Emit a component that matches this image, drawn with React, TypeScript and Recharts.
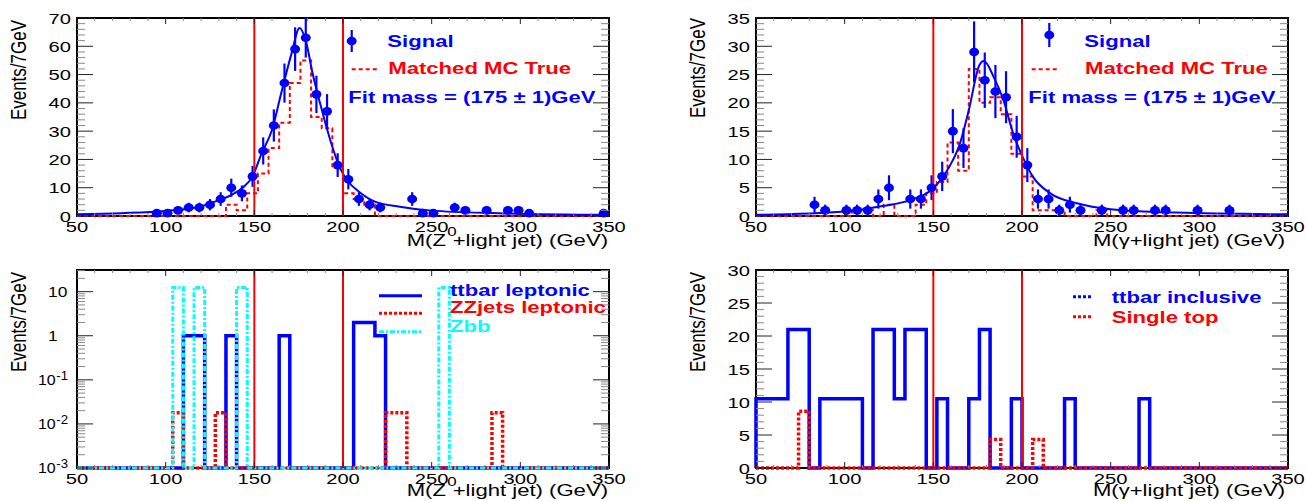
import React from 'react';
import { ComposedChart, Line, Scatter, ErrorBar, XAxis, YAxis, ReferenceLine, ReferenceArea } from 'recharts';

const BLUE = '#0000ff';
const RED = '#ff0000';
const CYAN = '#00ffff';
const FONT = '"Liberation Sans", Arial, Helvetica, sans-serif';
const SX = 1.3; // the original figure is stretched horizontally

// 50 bins of 6 GeV between 50 and 350
const X_MIN = 50;
const X_MAX = 350;
const BIN_W = 6;
const PLOT_W = 532;
const PLOT_H = 198;
const cuts = [150, 200];

const xMajor = [50, 100, 150, 200, 250, 300, 350];

// ---- top left: M(Z0 + light jet)
const sigZX = [95, 101, 107, 113, 119, 125, 131, 137, 143, 149, 155, 161, 167, 173, 179, 185, 191, 197, 203, 209, 215, 221, 239, 245, 251, 263, 269, 281, 293, 299, 305, 347];
const sigZY = [1, 1, 2, 3, 3, 4, 6, 10, 8, 14, 23, 32, 47, 59, 63, 43, 37, 18, 13, 6, 4, 3, 6, 1, 1, 3, 2, 2, 2, 2, 1, 1];
const sigZErr = [1, 1, 1.4, 1.7, 1.7, 2, 2.4, 3.2, 2.8, 3.7, 4.8, 5.7, 6.9, 7.7, 7, 6.6, 6.1, 4.2, 3.6, 2.4, 2, 1.7, 2.4, 1, 1, 1.7, 1.4, 1.4, 1.4, 1.4, 1, 1];
const mcZLo = [134, 140, 146, 152, 158, 164, 170, 176, 182, 188, 194, 200, 206, 212];
const mcZVal = [4, 2, 8, 15, 24, 33, 47, 55, 35, 31, 17, 8, 6, 4];
const fitZX = [50, 75, 100, 119, 130, 137, 143, 149, 154, 160, 165, 171, 175.5, 179, 183, 187, 190, 194, 198, 203, 209, 218, 232, 250, 288, 350];
const fitZY = [0.6, 1.0, 1.8, 3.3, 5.6, 7.4, 9.8, 14, 22, 30.5, 43, 57.5, 66.5, 62, 50, 40, 33, 24.5, 17.4, 12.1, 8.6, 5.1, 3.3, 1.9, 1.0, 0.4];
const yZMajor = [0, 10, 20, 30, 40, 50, 60, 70];

// ---- top right: M(gamma + light jet)
const sigGX = [83, 89, 101, 107, 113, 119, 125, 137, 143, 149, 155, 161, 167, 173, 179, 185, 191, 197, 203, 209, 215, 221, 227, 233, 245, 257, 263, 275, 281, 299, 317];
const sigGY = [2, 1, 1, 1, 1, 3, 5, 3, 3, 5, 7, 15, 12, 29, 24, 22, 21, 14, 9, 3, 3, 1, 2, 1, 1, 1, 1, 1, 1, 1, 1];
const sigGErr = [1.4, 1, 1, 1, 1, 1.7, 2.2, 1.7, 1.7, 2.2, 2.6, 3.9, 3.5, 5.4, 4.9, 4.7, 4.6, 3.7, 3, 1.7, 1.7, 1, 1.4, 1, 1, 1, 1, 1, 1, 1, 1];
const mcGLo = [104, 110, 122, 140, 146, 152, 158, 164, 170, 176, 182, 188, 194, 200, 206, 212, 218, 242];
const mcGVal = [1, 1, 2, 2, 4, 6, 13, 8, 26, 20, 21, 18, 11, 7, 1, 1, 1, 1];
const fitGX = [50, 100, 122, 137, 150, 159, 165, 170, 176, 178.5, 184, 189.5, 195, 201, 206, 216, 231, 250, 287, 350];
const fitGY = [0.2, 0.8, 1.8, 2.8, 4.9, 8.7, 12.8, 18.7, 26.7, 27.4, 24.6, 20.5, 14.6, 10, 7, 4, 2.25, 1.2, 0.6, 0.3];
const yGMajor = [0, 5, 10, 15, 20, 25, 30, 35];

// ---- bottom left: backgrounds, log scale
const LOG_FLOOR = 0.001;
const ttLepLo = [110, 116, 134, 164, 206, 212, 218];
const ttLepVal = [1, 1, 1, 1, 2, 2, 1];
const zzLo = [104, 128, 224, 230, 284];
const zzVal = [0.018, 0.018, 0.018, 0.018, 0.018];
const zbbLo = [104, 116, 140, 254];
const zbbVal = [12.5, 12.5, 12.5, 12.5];
const logMajor = [0.001, 0.01, 0.1, 1, 10];

// ---- bottom right: backgrounds, linear
const ttIncLo = [50, 56, 62, 68, 74, 86, 92, 98, 104, 116, 122, 128, 134, 140, 152, 170, 176, 194, 224, 266];
const ttIncVal = [10.5, 10.5, 10.5, 21, 21, 10.5, 10.5, 10.5, 10.5, 21, 21, 10.5, 21, 21, 10.5, 10.5, 21, 10.5, 10.5, 10.5];
const stopLo = [74, 182, 206];
const stopVal = [8.6, 4.3, 4.3];
const yBMajor = [0, 5, 10, 15, 20, 25, 30];

const range = (a: number, b: number, s: number) => {
  const out: number[] = [];
  for (let v = a; v <= b + 1e-9; v += s) out.push(Math.round(v * 1000) / 1000);
  return out;
};
const xTicks = range(50, 350, 10);
const logTicks = logMajor
  .flatMap((d) => [1, 2, 3, 4, 5, 6, 7, 8, 9].map((m) => Number((m * d).toPrecision(4))))
  .filter((v) => v <= 31);

const points = (xs: number[], ys: number[], errs?: number[]) =>
  xs.map((x, i) => ({ x, y: ys[i], err: errs ? errs[i] : 0 }));

// histogram outline for a stepAfter line
const outline = (lows: number[], vals: number[], floor = 0) => {
  const pts = [{ x: X_MIN, y: floor }];
  lows.forEach((lo, i) => {
    pts.push({ x: lo, y: vals[i] });
    if (lows[i + 1] !== lo + BIN_W) pts.push({ x: lo + BIN_W, y: floor });
  });
  pts.push({ x: X_MAX, y: floor });
  return pts;
};

const tickLine = (major: boolean) => ({ stroke: major ? '#222' : '#888', strokeWidth: 1 });

const makeXTick = (labelDy: number) => (p: any) => {
  const { x, y, payload } = p;
  const major = xMajor.includes(payload.value);
  const len = major ? 6 : 3;
  return (
    <g>
      <line x1={x} x2={x} y1={y} y2={y - len} {...tickLine(major)} />
      <line x1={x} x2={x} y1={y - PLOT_H} y2={y - PLOT_H + len} {...tickLine(major)} />
      {major && (
        <text transform={`translate(${x},${y + labelDy}) scale(${SX},1)`} textAnchor="middle" fontSize={15.5} fontFamily={FONT} fill="#000">
          {payload.value}
        </text>
      )}
    </g>
  );
};

const makeLinTick = (majors: number[]) => (p: any) => {
  const { x, y, payload } = p;
  const major = majors.includes(payload.value);
  const len = major ? 16 : 8;
  return (
    <g>
      <line x1={x} x2={x + len} y1={y} y2={y} {...tickLine(major)} />
      <line x1={x + PLOT_W} x2={x + PLOT_W - len} y1={y} y2={y} {...tickLine(major)} />
      {major && (
        <text transform={`translate(${x - 6},${y}) scale(${SX},1)`} textAnchor="end" dy="0.36em" fontSize={15.5} fontFamily={FONT} fill="#000">
          {payload.value}
        </text>
      )}
    </g>
  );
};

const logTick = (p: any) => {
  const { x, y, payload } = p;
  const v = payload.value;
  const major = logMajor.includes(v);
  const len = major ? 16 : 8;
  let label = null;
  if (major && v >= 1) {
    label = (
      <text transform={`translate(${x - 29},${y}) scale(1.2,1)`} dy="0.36em" fontSize={14.5} fontFamily={FONT} fill="#000">
        {v}
      </text>
    );
  } else if (major) {
    label = (
      <text transform={`translate(${x - 39},${y}) scale(1.1,1)`} dy="0.36em" fontSize={14.5} fontFamily={FONT} fill="#000">
        10
        <tspan dx={0.5} dy={-5} fontSize={12}>
          {Math.round(Math.log10(v))}
        </tspan>
      </text>
    );
  }
  return (
    <g>
      <line x1={x} x2={x + len} y1={y} y2={y} {...tickLine(major)} />
      <line x1={x + PLOT_W} x2={x + PLOT_W - len} y1={y} y2={y} {...tickLine(major)} />
      {label}
    </g>
  );
};

const dotShape = (p: any) => <ellipse cx={p.cx} cy={p.cy} rx={5} ry={4.3} fill={BLUE} />;

type Box = { left: number; top: number; w: number; h: number; margin: { top: number; right: number; bottom: number; left: number }; labelDy: number };

const Panel = ({ box, yDomain, yTicks, yTick, yScale, series }: { box: Box; yDomain: number[]; yTicks: number[]; yTick: any; yScale?: any; series: React.ReactNode[] }) => (
  <div style={{ position: 'absolute', left: box.left, top: box.top }}>
    <ComposedChart width={box.w} height={box.h} margin={box.margin}>
      <XAxis type="number" dataKey="x" domain={[X_MIN, X_MAX]} ticks={xTicks} interval={0} tickSize={0} tickMargin={0} axisLine={false} tickLine={false} height={30} tick={makeXTick(box.labelDy)} />
      <YAxis type="number" dataKey="y" scale={yScale || 'linear'} domain={yDomain} ticks={yTicks} interval={0} tickSize={0} tickMargin={0} axisLine={false} tickLine={false} width={60} tick={yTick} />
      <ReferenceArea x1={X_MIN} x2={X_MAX} y1={yDomain[0]} y2={yDomain[1]} fill="none" stroke="#000" strokeWidth={2} />
      {series}
      {cuts.map((c) => (
        <ReferenceLine key={c} x={c} stroke={RED} strokeWidth={2} />
      ))}
    </ComposedChart>
  </div>
);

const boxTL: Box = { left: 0, top: 0, w: 650, h: 250, margin: { top: 18, right: 41, bottom: 4, left: 17 }, labelDy: 16 };
const boxTR: Box = { left: 650, top: 0, w: 656, h: 250, margin: { top: 18, right: 18, bottom: 4, left: 46 }, labelDy: 16 };
const boxBL: Box = { left: 0, top: 250, w: 650, h: 251, margin: { top: 20, right: 41, bottom: 3, left: 17 }, labelDy: 15.5 };
const boxBR: Box = { left: 650, top: 250, w: 656, h: 251, margin: { top: 20, right: 18, bottom: 3, left: 46 }, labelDy: 15.5 };

const common = { dot: false, activeDot: false, isAnimationActive: false } as const;

const signalSeries = (sx: number[], sy: number[], se: number[], mcLo: number[], mcVal: number[], fx: number[], fy: number[]) => [
  <Line key="mc" data={outline(mcLo, mcVal)} dataKey="y" type="stepAfter" stroke={RED} strokeWidth={2} strokeDasharray="4 3" {...common} />,
  <Line key="fit" data={points(fx, fy)} dataKey="y" type="monotone" stroke={BLUE} strokeWidth={2} {...common} />,
  <Scatter key="sig" data={points(sx, sy, se)} fill={BLUE} shape={dotShape} isAnimationActive={false}>
    <ErrorBar dataKey="err" direction="y" width={0} stroke={BLUE} strokeWidth={2.2} />
  </Scatter>,
];

const T = (props: any) => (
  <text fontFamily={FONT} {...props} transform={`translate(${props.x},${props.y}) scale(${SX},1)`} x={0} y={0} />
);

const Overlay = () => (
  <svg width={1306} height={501} style={{ position: 'absolute', left: 0, top: 0, pointerEvents: 'none' }}>
    {/* y titles */}
    {[
      [26, 20],
      [705, 18],
      [26, 272],
      [705, 272],
    ].map(([x, y], i) => (
      <text key={i} transform={`translate(${x},${y}) scale(${SX},1) rotate(-90)`} textAnchor="end" fontSize={17} fontFamily={FONT} fill="#000">
        Events/7GeV
      </text>
    ))}
    {/* x titles */}
    {[246, 496].map((y) => (
      <T key={y} x={608} y={y} textAnchor="end" fontSize={17} fill="#000">
        M(Z<tspan dy={-10} dx={1} fontSize={13}>0</tspan>
        <tspan dy={10} dx={-3}>+light jet) (GeV)</tspan>
      </T>
    ))}
    {[246, 496].map((y) => (
      <T key={'g' + y} x={1285} y={y} textAnchor="end" fontSize={17} fill="#000">
        M(γ+light jet) (GeV)
      </T>
    ))}

    {/* top legends */}
    <line x1={351.7} x2={351.7} y1={30} y2={52} stroke={BLUE} strokeWidth={2.2} />
    <ellipse cx={351.7} cy={41} rx={5} ry={4.3} fill={BLUE} />
    <T x={387.3} y={46.7} fontSize={17} fontWeight="bold" fill={BLUE}>Signal</T>
    <line x1={351.7} x2={377.3} y1={69.3} y2={69.3} stroke={RED} strokeWidth={2} strokeDasharray="4 3" />
    <T x={388.3} y={74} fontSize={17} fontWeight="bold" fill={RED}>Matched MC True</T>
    <T x={348.3} y={102.5} fontSize={17} fontWeight="bold" fill={BLUE}>Fit mass = (175 ± 1)GeV</T>

    <line x1={1049.3} x2={1049.3} y1={23} y2={47} stroke={BLUE} strokeWidth={2.2} />
    <ellipse cx={1049.3} cy={35} rx={5} ry={4.3} fill={BLUE} />
    <T x={1084.3} y={46.7} fontSize={17} fontWeight="bold" fill={BLUE}>Signal</T>
    <line x1={1031.7} x2={1056.7} y1={69.3} y2={69.3} stroke={RED} strokeWidth={2} strokeDasharray="4 3" />
    <T x={1085} y={74} fontSize={17} fontWeight="bold" fill={RED}>Matched MC True</T>
    <T x={1028.3} y={102.5} fontSize={17} fontWeight="bold" fill={BLUE}>Fit mass = (175 ± 1)GeV</T>

    {/* bottom left legend */}
    <line x1={379} x2={422} y1={295.7} y2={295.7} stroke={BLUE} strokeWidth={3} />
    <line x1={379} x2={422} y1={313.3} y2={313.3} stroke={RED} strokeWidth={3} strokeDasharray="3 2" />
    <line x1={379} x2={422} y1={331.7} y2={331.7} stroke={CYAN} strokeWidth={3} strokeDasharray="5 2 2 2" />
    <T x={450} y={295.7} fontSize={17} fontWeight="bold" fill={BLUE}>ttbar leptonic</T>
    <T x={450} y={313.3} fontSize={17} fontWeight="bold" fill={RED}>ZZjets leptonic</T>
    <T x={450} y={331.7} fontSize={17} fontWeight="bold" fill={CYAN}>Zbb</T>

    {/* bottom right legend */}
    <line x1={1073} x2={1092} y1={296.7} y2={296.7} stroke={BLUE} strokeWidth={3} strokeDasharray="3 2" />
    <line x1={1073} x2={1092} y1={316.7} y2={316.7} stroke={RED} strokeWidth={3} strokeDasharray="3 2" />
    <T x={1111.7} y={302.7} fontSize={17} fontWeight="bold" fill={BLUE}>ttbar inclusive</T>
    <T x={1111.7} y={322.5} fontSize={17} fontWeight="bold" fill={RED}>Single top</T>
  </svg>
);

const App: React.FC = () => (
  <div style={{ position: 'absolute', left: 0, top: 0, width: 1306, height: 501, background: '#fff', fontFamily: FONT }}>
    <Panel
      box={boxTL}
      yDomain={[0, 70]}
      yTicks={range(0, 70, 2)}
      yTick={makeLinTick(yZMajor)}
      series={signalSeries(sigZX, sigZY, sigZErr, mcZLo, mcZVal, fitZX, fitZY)}
    />
    <Panel
      box={boxTR}
      yDomain={[0, 35]}
      yTicks={range(0, 35, 1)}
      yTick={makeLinTick(yGMajor)}
      series={signalSeries(sigGX, sigGY, sigGErr, mcGLo, mcGVal, fitGX, fitGY)}
    />
    <Panel
      box={boxBL}
      yDomain={[LOG_FLOOR, 31]}
      yTicks={logTicks}
      yTick={logTick}
      yScale="log"
      series={[
        <Line key="tt" data={outline(ttLepLo, ttLepVal, LOG_FLOOR)} dataKey="y" type="stepAfter" stroke={BLUE} strokeWidth={3.5} {...common} />,
        <Line key="zz" data={outline(zzLo, zzVal, LOG_FLOOR)} dataKey="y" type="stepAfter" stroke={RED} strokeWidth={3.5} strokeDasharray="3 2" {...common} />,
        <Line key="zbb" data={outline(zbbLo, zbbVal, LOG_FLOOR)} dataKey="y" type="stepAfter" stroke={CYAN} strokeWidth={3} strokeDasharray="5 2 2 2" {...common} />,
      ]}
    />
    <Panel
      box={boxBR}
      yDomain={[0, 30]}
      yTicks={range(0, 30, 1)}
      yTick={makeLinTick(yBMajor)}
      series={[
        <Line key="tt" data={outline(ttIncLo, ttIncVal)} dataKey="y" type="stepAfter" stroke={BLUE} strokeWidth={3.5} {...common} />,
        <Line key="st" data={outline(stopLo, stopVal)} dataKey="y" type="stepAfter" stroke={RED} strokeWidth={3.5} strokeDasharray="3 2" {...common} />,
      ]}
    />
    <Overlay />
  </div>
);

export default App;
